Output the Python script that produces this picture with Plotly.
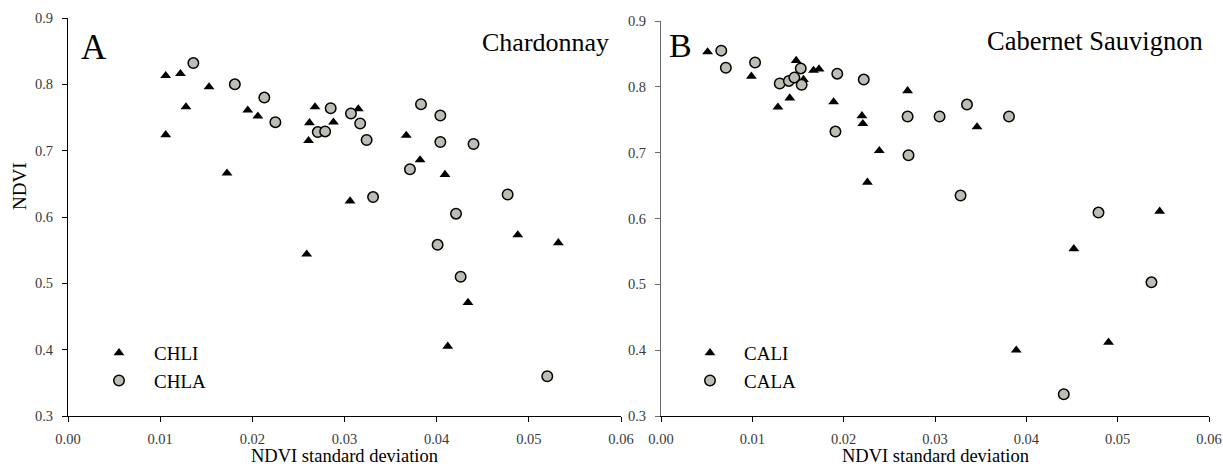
import plotly.graph_objects as go

# ---------------- data ----------------
chli_x = [0.0106, 0.0106, 0.0122, 0.0128, 0.0153, 0.01725, 0.0195, 0.0206, 0.0259, 0.0261, 0.0262,
          0.0268, 0.0288, 0.0306, 0.0315, 0.0367, 0.0382, 0.0409, 0.0412, 0.0434, 0.0488, 0.0532]
chli_y = [0.813, 0.724, 0.816, 0.766, 0.796, 0.666, 0.761, 0.752, 0.544, 0.715, 0.742,
          0.766, 0.743, 0.624, 0.763, 0.723, 0.686, 0.664, 0.405, 0.471, 0.573, 0.561]

chla_x = [0.0136, 0.0181, 0.0213, 0.0225, 0.0271, 0.0279, 0.0285, 0.0307, 0.0317, 0.0324,
          0.0383, 0.0404, 0.0404, 0.0440, 0.0371, 0.0331, 0.0477, 0.0421, 0.0401, 0.0426, 0.0520]
chla_y = [0.832, 0.800, 0.780, 0.743, 0.728, 0.729, 0.764, 0.756, 0.741, 0.716,
          0.770, 0.753, 0.713, 0.710, 0.672, 0.630, 0.634, 0.605, 0.558, 0.510, 0.360]

cali_x = [0.0051, 0.0099, 0.0128, 0.0141, 0.0148, 0.0156, 0.0167, 0.0173, 0.0189, 0.0220,
          0.0221, 0.0239, 0.0226, 0.0270, 0.0346, 0.0546, 0.0452, 0.0389, 0.0490]
cali_y = [0.853, 0.816, 0.769, 0.783, 0.840, 0.811, 0.825, 0.827, 0.777, 0.756,
          0.744, 0.703, 0.655, 0.794, 0.739, 0.611, 0.554, 0.400, 0.412]

cala_x = [0.0066, 0.0071, 0.0103, 0.0130, 0.0140, 0.0146, 0.0153, 0.0154, 0.0193, 0.0191,
          0.0222, 0.0270, 0.0271, 0.0305, 0.0335, 0.0381, 0.0328, 0.0479, 0.0537, 0.0441]
cala_y = [0.855, 0.829, 0.837, 0.805, 0.809, 0.814, 0.828, 0.803, 0.820, 0.732,
          0.811, 0.755, 0.696, 0.755, 0.773, 0.755, 0.635, 0.609, 0.503, 0.333]

x_ticks = [0.00, 0.01, 0.02, 0.03, 0.04, 0.05, 0.06]
y_ticks = [0.3, 0.4, 0.5, 0.6, 0.7, 0.8, 0.9]
panel_titles = ["Chardonnay", "Cabernet Sauvignon"]
panel_letters = ["A", "B"]
x_title = "NDVI standard deviation"
y_title = "NDVI"

# ---------------- style ----------------
W, H = 1223, 472
FONT = "Liberation Serif, Times New Roman, serif"
GRAY_FILL = "#bdbdb5"
TRI = dict(symbol="triangle-up", size=9.5, color="black", line=dict(width=0))
CIR = dict(symbol="circle", size=10.5, color=GRAY_FILL, line=dict(width=1.5, color="black"))

def px_x(p):
    return p / W

def px_y(p):
    return 1 - p / H

fig = go.Figure()
fig.add_trace(go.Scatter(x=chli_x, y=chli_y, mode="markers", name="CHLI", marker=TRI,
                         xaxis="x", yaxis="y", legend="legend"))
fig.add_trace(go.Scatter(x=chla_x, y=chla_y, mode="markers", name="CHLA", marker=CIR,
                         xaxis="x", yaxis="y", legend="legend"))
fig.add_trace(go.Scatter(x=cali_x, y=cali_y, mode="markers", name="CALI", marker=TRI,
                         xaxis="x2", yaxis="y2", legend="legend2"))
fig.add_trace(go.Scatter(x=cala_x, y=cala_y, mode="markers", name="CALA", marker=CIR,
                         xaxis="x2", yaxis="y2", legend="legend2"))

tickfont = dict(family=FONT, size=14.5, color="#3a3a3a")
xcommon = dict(range=[0, 0.06], tickvals=x_ticks, tickformat=".2f", showgrid=False, zeroline=False,
               showline=True, linecolor="black", linewidth=1.2, ticks="outside", ticklen=5,
               tickcolor="black", tickwidth=1, tickfont=tickfont, ticklabelstandoff=4,
               ticklabeloverflow="allow", automargin=False)
ycommon = dict(range=[0.3, 0.9], tickvals=y_ticks, tickformat=".1f", showgrid=False, zeroline=False,
               showline=True, linewidth=1.2, ticks="outside", ticklen=5,
               tickwidth=1, tickfont=tickfont, ticklabelstandoff=6, automargin=False)

fig.update_layout(
    template="none",
    width=W, height=H, autosize=False,
    margin=dict(l=0, r=0, t=0, b=0, pad=0, autoexpand=False),
    paper_bgcolor="white", plot_bgcolor="white",
    font=dict(family=FONT, color="black"),
    xaxis=dict(domain=[px_x(68), px_x(621)], anchor="y", **xcommon),
    yaxis=dict(domain=[px_y(416), px_y(18)], anchor="x", linecolor="black", tickcolor="black", **ycommon),
    xaxis2=dict(domain=[px_x(661), px_x(1209)], anchor="y2", **xcommon),
    yaxis2=dict(domain=[px_y(416), px_y(21)], anchor="x2", linecolor="#6a6a6a", tickcolor="#6a6a6a", **ycommon),
    legend=dict(x=px_x(84), y=px_y(334), xanchor="left", yanchor="top", bgcolor="rgba(0,0,0,0)",
                font=dict(family=FONT, size=19, color="black"), itemwidth=60, tracegroupgap=0),
    legend2=dict(x=px_x(676), y=px_y(334), xanchor="left", yanchor="top", bgcolor="rgba(0,0,0,0)",
                 font=dict(family=FONT, size=19, color="black"), itemwidth=58, tracegroupgap=0),
    showlegend=True,
)

ann = []
# panel letters
ann.append(dict(text=panel_letters[0], x=px_x(79), y=px_y(48), xref="paper", yref="paper",
                xanchor="left", yanchor="middle", showarrow=False, font=dict(family=FONT, size=35)))
ann.append(dict(text=panel_letters[1], x=px_x(667), y=px_y(46), xref="paper", yref="paper",
                xanchor="left", yanchor="middle", showarrow=False, font=dict(family=FONT, size=34)))
# panel titles
ann.append(dict(text=panel_titles[0], x=px_x(611), y=px_y(43), xref="paper", yref="paper",
                xanchor="right", yanchor="middle", showarrow=False, font=dict(family=FONT, size=26)))
ann.append(dict(text=panel_titles[1], x=px_x(1205), y=px_y(41), xref="paper", yref="paper",
                xanchor="right", yanchor="middle", showarrow=False, font=dict(family=FONT, size=26.5)))
# axis titles
ann.append(dict(text=x_title, x=px_x(345), y=px_y(456), xref="paper", yref="paper",
                xanchor="center", yanchor="middle", showarrow=False, font=dict(family=FONT, size=18.5)))
ann.append(dict(text=x_title, x=px_x(935), y=px_y(456), xref="paper", yref="paper",
                xanchor="center", yanchor="middle", showarrow=False, font=dict(family=FONT, size=18.5)))
ann.append(dict(text=y_title, x=px_x(19), y=px_y(186), xref="paper", yref="paper",
                xanchor="center", yanchor="middle", textangle=-90, showarrow=False,
                font=dict(family=FONT, size=19)))
fig.update_layout(annotations=ann)

fig.write_html(
    "out.html",
    config={"displayModeBar": False},
    post_script="document.body.style.margin='0px';document.body.style.overflow='hidden';"
                "document.documentElement.style.overflow='hidden';",
)
